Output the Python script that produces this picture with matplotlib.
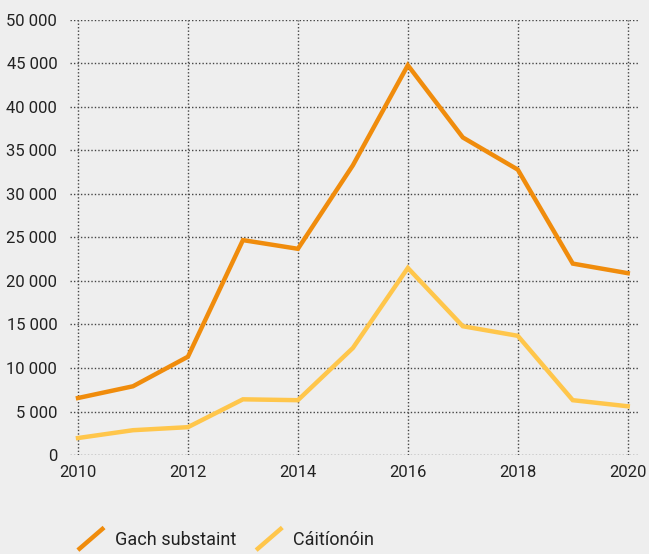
import numpy as np
import matplotlib
matplotlib.use("Agg")
from matplotlib import pyplot as plt
from matplotlib.lines import Line2D
from matplotlib.legend_handler import HandlerBase

years = [2010, 2011, 2012, 2013, 2014, 2015, 2016, 2017, 2018, 2019, 2020]
gach_substaint = [6550, 7900, 11300, 24700, 23700, 33300, 44800, 36500, 32800, 22000, 20900]
caitionoin = [1950, 2850, 3200, 6400, 6300, 12300, 21500, 14800, 13700, 6300, 5600]
labels = ['Gach substaint', 'Cáitíonóin']
colors = ['#F08C0C', '#FFC64B']
yticks = np.arange(0, 50001, 5000)
xticks = [2010, 2012, 2014, 2016, 2018, 2020]


class DiagHandler(HandlerBase):
    # slanted stroke as the legend key
    def create_artists(self, legend, orig, xdescent, ydescent, width, height, fontsize, trans):
        l = Line2D([-xdescent, -xdescent + width], [-ydescent, -ydescent + height],
                   color=orig.get_color(), lw=3.2, solid_capstyle='butt', transform=trans)
        return [l]


plt.rcParams['font.family'] = ['Roboto', 'DejaVu Sans']
bg = '#EEEEEE'
fig = plt.figure(figsize=(6.49, 5.54), dpi=100, facecolor=bg)
ax = fig.add_axes([0.1075, 0.1787, 0.875, 0.7852], facecolor=bg)

handles = []
for vals, c, lab in zip([gach_substaint, caitionoin], colors, labels):
    h, = ax.plot(years, vals, color=c, lw=3.2, label=lab, clip_on=False, zorder=3,
                 solid_joinstyle='miter')
    handles.append(h)

ax.set_xlim(2009.85, 2020.18)
ax.set_ylim(0, 50000)
ax.set_yticks(yticks)
ax.set_yticklabels([f'{v:,}'.replace(',', ' ') for v in yticks])
ax.set_xticks(xticks)
ax.grid(True, linestyle=(0, (1, 1.5)), color='#444444', lw=1)
ax.tick_params(length=0, labelsize=12, colors='#222222')
ax.tick_params(axis='y', pad=9)
ax.tick_params(axis='x', pad=7)
for s in ax.spines.values():
    s.set_visible(False)

fig.legend(handles=handles, handler_map={Line2D: DiagHandler()},
           loc='lower left', bbox_to_anchor=(0.12, 0.007), ncol=2, frameon=False,
           fontsize=13, handlelength=1.45, handleheight=1.55, handletextpad=0.6,
           columnspacing=1.1, borderpad=0, borderaxespad=0, labelcolor='#222222')

fig.savefig('out.png', dpi=100, facecolor=bg)
